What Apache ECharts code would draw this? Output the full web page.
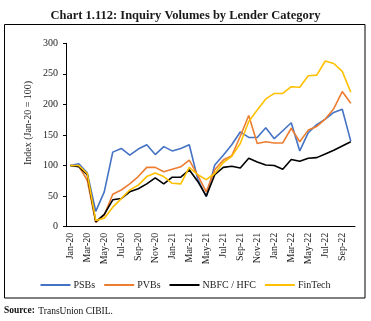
<!DOCTYPE html>
<html><head><meta charset="utf-8">
<script src="https://cdn.jsdelivr.net/npm/echarts@6/dist/echarts.min.js"></script>
<style>html,body{margin:0;padding:0;background:#fff}#c{width:371px;height:321px}</style>
</head><body><div id="c"></div>
<script>
const categories = ['Jan-20','Feb-20','Mar-20','Apr-20','May-20','Jun-20','Jul-20','Aug-20','Sep-20','Oct-20','Nov-20','Dec-20',
  'Jan-21','Feb-21','Mar-21','Apr-21','May-21','Jun-21','Jul-21','Aug-21','Sep-21','Oct-21','Nov-21','Dec-21',
  'Jan-22','Feb-22','Mar-22','Apr-22','May-22','Jun-22','Jul-22','Aug-22','Sep-22','Oct-22'];
const psbs    = [100,103,88,25,57,122,128,117,127,134,118,131,124,128,134,78,49,101,117,134,155,146,146,162,144,157,170,124,154,167,176,187,192,140];
const pvbs    = [100,99,76,7,19,53,60,70,82,97,97,90,94,98,109,84,57,93,109,116,148,182,136,139,137,137,161,139,158,164,176,193,221,202];
const nbfc    = [100,98,85,8,20,44,46,57,62,70,80,70,81,81,93,74,50,85,97,99,96,112,106,101,100,94,110,107,112,113,119,125,132,139];
const fintech = [100,100,87,10,14,32,46,60,68,82,88,82,71,70,97,85,77,87,105,115,136,172,191,209,218,218,229,228,247,248,271,267,254,220];
const seriesNames = ['PSBs','PVBs','NBFC / HFC','FinTech'];
const yTicks = [0,50,100,150,200,250,300];

const colors = ['#4472C4','#ED7D31','#000000','#FFC000'];
const font = 'Liberation Serif';
const chart = echarts.init(document.getElementById('c'), null, {renderer:'canvas'});
const mk = (name, data, c) => ({name, type:'line', data, symbol:'none', smooth:false,
  lineStyle:{width:1.6, color:c}, itemStyle:{color:c}});
chart.setOption({
  animation:false,
  title:{text:'Chart 1.112: Inquiry Volumes by Lender Category', left:'center', top:4,
    textStyle:{fontFamily:font, fontWeight:'bold', fontSize:12.5, color:'#1a1a1a'}},
  grid:{left:66, right:16, top:43.3, bottom:94.3, containLabel:false},
  xAxis:{type:'category', data:categories, boundaryGap:true,
    axisLine:{lineStyle:{color:'#000', width:1}},
    axisTick:{interval:1, length:4, lineStyle:{color:'#000'}},
    axisLabel:{interval:1, rotate:90, margin:6, fontFamily:font, fontSize:10, color:'#222'}},
  yAxis:{type:'value', min:yTicks[0], max:yTicks[yTicks.length-1], interval:50,
    splitLine:{show:false},
    axisLine:{show:true, lineStyle:{color:'#000', width:1}},
    axisTick:{show:true, length:3, lineStyle:{color:'#000'}},
    axisLabel:{margin:8, fontFamily:font, fontSize:10, color:'#222'}},
  legend:{data:seriesNames.map(n=>({name:n, icon:'rect'})), left:'center', top:275, itemWidth:30, itemHeight:2,
    itemGap:9, textStyle:{fontFamily:font, fontSize:10, color:'#222', padding:[0,0,0,-2]}},
  graphic:[
    {type:'rect', shape:{x:4.5, y:24.5, width:360.5, height:273.5}, style:{fill:'none', stroke:'#000', lineWidth:1}, silent:true},
    {type:'text', x:28, y:123, rotation:Math.PI/2, style:{text:'Index (Jan-20 = 100)', fontFamily:font, fontSize:10,
      fill:'#222', textAlign:'center', textVerticalAlign:'middle'}},
    {type:'text', left:4, top:305, style:{rich:{b:{fontFamily:font, fontWeight:'bold', fontSize:9.5, fill:'#111'},
      n:{fontFamily:font, fontSize:9.5, fill:'#111'}}, text:'{b|Source:} {n|TransUnion CIBIL.}'}}
  ],
  series:[mk(seriesNames[0],psbs,colors[0]), mk(seriesNames[1],pvbs,colors[1]), mk(seriesNames[2],nbfc,colors[2]), mk(seriesNames[3],fintech,colors[3])]
});
</script></body></html>
